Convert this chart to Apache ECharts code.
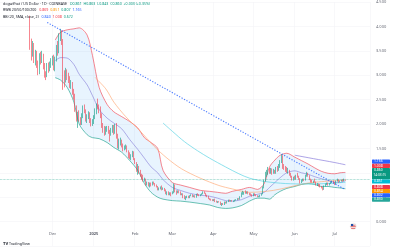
<!DOCTYPE html>
<html><head><meta charset="utf-8">
<script src="https://cdn.jsdelivr.net/npm/echarts@6/dist/echarts.min.js"></script>
<style>html,body{margin:0;padding:0;background:#fff}#c{width:400px;height:250px}</style>
</head><body><div id="c"></div>
<script>
// ---- axis / data ----
const axisStart = '2024-10-23';
const axisDays = 278;
const candleStart = '2024-11-14';
const firstLabelDate = '2024-12-01';
const monthNames = ['Jan','Feb','Mar','Apr','May','Jun','Jul','Aug','Sep','Oct','Nov','Dec'];
const yTicks = [-0.5, 4.5, 0.5]; // min, max, step

// daily candles [open, close, low, high]
const candles = [
[4.15,3.60,3.52,4.22],[3.60,3.42,3.30,3.75],[3.42,3.62,3.38,3.70],[3.62,3.31,3.25,3.66],[3.31,3.45,3.20,3.52],
[3.45,3.22,3.15,3.50],[3.22,3.08,3.00,3.30],[3.08,3.38,3.02,3.45],[3.38,3.30,3.22,3.48],[3.30,3.41,3.25,3.50],
[3.41,3.18,3.12,3.44],[3.18,3.02,2.95,3.25],[3.02,2.98,2.90,3.08],[2.98,3.21,2.96,3.25],[3.21,3.12,3.05,3.26],
[3.12,3.22,3.08,3.28],[3.22,3.30,3.15,3.35],
[3.30,3.35,3.20,3.40],[3.35,3.18,3.10,3.42],[3.18,3.32,3.08,3.38],[3.32,3.55,3.28,3.62],[3.55,3.48,3.40,3.70],
[3.48,3.80,3.45,3.86],[3.80,3.86,3.70,3.95],[3.86,3.70,3.62,3.92],[3.70,2.98,2.70,3.74],[2.98,2.92,2.75,3.10],
[2.92,3.08,2.85,3.15],[3.08,2.96,2.90,3.12],[2.96,2.92,2.84,3.05],[2.92,2.80,2.74,2.98],[2.80,2.84,2.72,2.90],
[2.84,2.66,2.60,2.86],[2.66,2.58,2.50,2.72],[2.58,2.30,2.25,2.62],[2.30,2.12,2.05,2.38],[2.12,2.18,1.92,2.25],
[2.18,2.10,2.05,2.28],[2.10,2.03,1.98,2.14],[2.03,2.16,1.98,2.22],[2.16,2.33,2.12,2.38],[2.33,2.28,2.22,2.40],
[2.28,2.10,2.05,2.30],[2.10,2.15,2.02,2.20],[2.15,2.22,2.10,2.26],[2.22,2.06,2.02,2.24],[2.06,2.00,1.95,2.12],
[2.00,2.04,1.96,2.10],
[2.04,2.14,2.00,2.18],[2.14,2.26,2.10,2.32],[2.26,2.36,2.20,2.42],[2.36,2.34,2.30,2.52],[2.34,2.28,2.22,2.40],
[2.28,2.18,2.12,2.36],[2.18,1.96,1.92,2.22],[1.96,1.90,1.82,2.02],[1.90,1.82,1.76,1.96],[1.82,1.88,1.78,1.95],
[1.88,1.92,1.84,1.96],[1.92,1.84,1.80,1.96],[1.84,1.78,1.64,1.88],[1.78,1.88,1.76,1.92],[1.88,1.94,1.82,1.98],
[1.94,1.82,1.78,1.98],[1.82,1.95,1.80,2.00],[1.95,1.74,1.70,2.02],[1.74,1.58,1.50,1.80],[1.58,1.62,1.48,1.70],
[1.62,1.66,1.56,1.72],[1.66,1.55,1.52,1.68],[1.55,1.50,1.44,1.60],[1.50,1.52,1.46,1.56],[1.52,1.54,1.48,1.58],
[1.54,1.44,1.42,1.56],[1.44,1.38,1.30,1.46],[1.38,1.31,1.28,1.42],[1.31,1.34,1.26,1.38],[1.34,1.40,1.32,1.45],
[1.40,1.28,1.26,1.44],
[1.28,1.20,1.18,1.30],[1.20,1.08,1.02,1.22],[1.08,1.12,0.96,1.18],[1.12,1.02,0.98,1.14],[1.02,0.95,0.92,1.06],
[0.95,0.88,0.86,0.98],[0.88,0.85,0.82,0.96],[0.85,0.87,0.82,0.90],[0.87,0.78,0.74,0.88],[0.78,0.79,0.74,0.82],
[0.79,0.74,0.72,0.81],[0.74,0.78,0.70,0.80],[0.78,0.75,0.72,0.80],[0.75,0.80,0.74,0.82],[0.80,0.77,0.76,0.82],
[0.77,0.73,0.72,0.79],[0.73,0.72,0.70,0.76],[0.72,0.66,0.64,0.73],[0.66,0.68,0.64,0.70],[0.68,0.70,0.66,0.72],
[0.70,0.66,0.64,0.74],[0.66,0.68,0.65,0.70],[0.68,0.64,0.62,0.69],[0.64,0.58,0.56,0.66],[0.58,0.60,0.54,0.62],
[0.60,0.56,0.54,0.62],[0.56,0.58,0.54,0.60],[0.58,0.57,0.52,0.60],
[0.57,0.60,0.56,0.62],[0.60,0.74,0.58,0.78],[0.74,0.62,0.60,0.76],[0.62,0.60,0.55,0.64],[0.60,0.62,0.58,0.64],
[0.62,0.59,0.58,0.64],[0.59,0.56,0.54,0.62],[0.56,0.57,0.54,0.58],[0.57,0.50,0.48,0.58],[0.50,0.48,0.46,0.54],
[0.48,0.50,0.44,0.52],[0.50,0.52,0.48,0.53],[0.52,0.49,0.48,0.53],[0.49,0.53,0.48,0.54],[0.53,0.55,0.52,0.56],
[0.55,0.51,0.50,0.56],[0.51,0.53,0.50,0.54],[0.53,0.50,0.49,0.54],[0.50,0.56,0.49,0.57],[0.56,0.54,0.53,0.58],
[0.54,0.53,0.52,0.56],[0.53,0.55,0.52,0.56],[0.55,0.57,0.54,0.58],[0.57,0.60,0.56,0.62],[0.60,0.58,0.57,0.62],
[0.58,0.53,0.52,0.59],[0.53,0.52,0.50,0.55],[0.52,0.47,0.46,0.53],[0.47,0.45,0.44,0.48],[0.45,0.44,0.43,0.47],
[0.44,0.43,0.42,0.46],
[0.43,0.45,0.42,0.46],[0.45,0.41,0.40,0.47],[0.41,0.40,0.39,0.43],[0.40,0.41,0.38,0.42],[0.41,0.40,0.39,0.42],
[0.40,0.35,0.34,0.41],[0.35,0.36,0.32,0.38],[0.36,0.35,0.34,0.38],[0.35,0.40,0.34,0.41],[0.40,0.38,0.37,0.41],
[0.38,0.41,0.37,0.42],[0.41,0.44,0.40,0.45],[0.44,0.42,0.41,0.45],[0.42,0.43,0.41,0.44],[0.43,0.42,0.41,0.44],
[0.42,0.42,0.40,0.43],[0.42,0.44,0.41,0.45],[0.44,0.45,0.43,0.46],[0.45,0.47,0.44,0.48],[0.47,0.46,0.45,0.48],
[0.46,0.51,0.45,0.52],[0.51,0.58,0.50,0.60],[0.58,0.58,0.55,0.63],[0.58,0.60,0.55,0.61],[0.60,0.58,0.57,0.64],
[0.58,0.60,0.57,0.62],[0.60,0.57,0.56,0.62],[0.57,0.56,0.54,0.59],[0.56,0.54,0.53,0.58],[0.54,0.53,0.51,0.56],
[0.53,0.57,0.52,0.58],[0.57,0.55,0.53,0.58],[0.55,0.53,0.52,0.56],[0.53,0.51,0.50,0.54],[0.51,0.52,0.50,0.53],
[0.52,0.54,0.50,0.55],[0.54,0.57,0.53,0.58],[0.57,0.70,0.56,0.72],[0.70,0.84,0.68,0.86],[0.84,0.98,0.82,1.02],
[0.98,1.00,0.92,1.06],[1.00,1.06,0.96,1.12],[1.06,1.02,0.98,1.10],[1.02,1.08,0.98,1.10],[1.08,0.99,0.96,1.09],
[0.99,1.05,0.98,1.08],[1.05,1.00,0.98,1.06],[1.00,1.10,0.98,1.12],[1.10,1.06,1.02,1.14],[1.06,1.14,1.04,1.18],
[1.14,1.22,1.10,1.26],[1.22,1.30,1.20,1.38],[1.30,1.12,1.08,1.36],[1.12,1.10,1.06,1.18],[1.10,1.08,1.02,1.14],
[1.08,1.02,1.00,1.12],[1.02,1.04,0.98,1.10],[1.04,0.96,0.94,1.06],[0.96,0.92,0.90,1.00],[0.92,0.86,0.84,0.94],
[0.86,0.90,0.84,0.92],
[0.90,0.88,0.86,0.94],[0.88,0.94,0.86,0.96],[0.94,0.92,0.90,1.00],[0.92,0.87,0.86,0.94],[0.87,0.80,0.78,0.89],
[0.80,0.84,0.79,0.86],[0.84,0.86,0.82,0.88],[0.86,0.85,0.83,0.88],[0.85,0.94,0.84,0.96],[0.94,0.98,0.92,1.02],
[0.98,0.94,0.92,1.00],[0.94,0.87,0.85,0.95],[0.87,0.84,0.80,0.88],[0.84,0.82,0.80,0.86],[0.82,0.83,0.79,0.84],
[0.83,0.81,0.80,0.88],[0.81,0.76,0.74,0.82],[0.76,0.77,0.73,0.79],[0.77,0.74,0.72,0.78],[0.74,0.72,0.70,0.77],
[0.72,0.70,0.68,0.73],[0.70,0.67,0.64,0.71],[0.67,0.73,0.65,0.74],[0.73,0.76,0.72,0.78],[0.76,0.78,0.75,0.80],
[0.78,0.75,0.74,0.80],[0.75,0.78,0.74,0.79],[0.78,0.80,0.77,0.82],[0.80,0.83,0.79,0.84],[0.83,0.80,0.78,0.84],
[0.80,0.77,0.75,0.81],[0.77,0.83,0.76,0.84],[0.83,0.86,0.82,0.88],[0.86,0.82,0.80,0.87],[0.82,0.83,0.81,0.84],
[0.83,0.85,0.82,0.86],[0.85,0.84,0.82,0.87],[0.84,0.86,0.83,0.88],[0.861,0.860,0.843,0.863]
];

// Bollinger Bands (20, SMA, close, 2)
const bbDates = ['2024-12-03','2024-12-07','2024-12-12','2024-12-17','2024-12-21','2024-12-27','2024-12-31',
 '2025-01-05','2025-01-11','2025-01-16','2025-01-22','2025-01-28','2025-02-03','2025-02-08','2025-02-13',
 '2025-02-18','2025-02-22','2025-03-01','2025-03-07','2025-03-14','2025-03-22','2025-03-29','2025-04-04',
 '2025-04-10','2025-04-15','2025-04-22','2025-04-28','2025-05-04','2025-05-09','2025-05-13','2025-05-17',
 '2025-05-21','2025-05-26','2025-06-01','2025-06-06','2025-06-11','2025-06-16','2025-06-21','2025-06-26',
 '2025-07-01','2025-07-05','2025-07-09'];
const bbUpper = [3.72,3.88,3.93,3.95,3.97,3.82,3.40,2.75,2.40,2.25,2.15,2.05,1.92,1.72,1.62,1.50,1.05,0.80,0.75,
 0.70,0.64,0.62,0.60,0.58,0.62,0.66,0.70,0.66,0.78,1.12,1.26,1.36,1.40,1.32,1.25,1.18,1.10,1.03,0.99,0.98,1.00,1.008];
const bbLower = [2.95,2.90,2.75,2.45,2.00,1.78,1.72,1.70,1.62,1.52,1.42,1.25,1.05,0.78,0.60,0.50,0.46,0.43,0.42,
 0.40,0.37,0.34,0.29,0.27,0.28,0.33,0.42,0.48,0.48,0.46,0.55,0.62,0.68,0.72,0.76,0.78,0.76,0.72,0.72,0.70,0.69,0.672];
const bbBasis = [3.30,3.36,3.35,3.22,3.02,2.80,2.58,2.30,2.12,2.02,1.90,1.68,1.48,1.30,1.12,1.00,0.86,0.70,0.64,
 0.58,0.54,0.52,0.48,0.43,0.42,0.45,0.52,0.56,0.60,0.70,0.80,0.90,1.00,1.04,1.00,0.97,0.92,0.88,0.84,0.81,0.80,0.840];

// moving averages
const ma50 = [['2025-01-02',2.95],['2025-01-10',2.72],['2025-01-16',2.45],['2025-01-25',2.15],['2025-02-05',1.85],
 ['2025-02-15',1.55],['2025-02-25',1.30],['2025-03-08',1.08],['2025-03-22',0.89],['2025-04-05',0.74],['2025-04-15',0.67],
 ['2025-04-28',0.60],['2025-05-16',0.64],['2025-06-11',0.79],['2025-07-09',0.851]];
const ma100 = [['2025-02-22',2.02],['2025-03-01',1.85],['2025-03-10',1.64],['2025-03-20',1.45],['2025-03-29',1.30],
 ['2025-04-10',1.12],['2025-04-20',0.98],['2025-04-28',0.89],['2025-05-10',0.82],['2025-05-25',0.78],['2025-06-10',0.77],
 ['2025-06-25',0.78],['2025-07-09',0.807]];
const ma200 = [['2025-06-01',1.36],['2025-06-15',1.29],['2025-07-01',1.21],['2025-07-09',1.165]];
const trendLine = [['2024-11-27',4.08],['2025-07-08',0.67]];
const lastClose = 0.860;

// right-axis price tags
const tags = [['1.166','#2962FF'],['1.008','#F23645'],['0.860','#089981'],['0.851','#00BCD4'],
 ['0.808','#F23645'],['0.854','#FF9800'],['0.802','#2962FF'],['0.830','#26A69A']];

// ---- build ----
function addDays(s, n){ const d = new Date(s + 'T00:00:00Z'); d.setUTCDate(d.getUTCDate() + n); return d.toISOString().slice(0,10); }
const cats = []; for (let i = 0; i < axisDays; i++) cats.push(addDays(axisStart, i));
const idx = {}; cats.forEach((c,i) => idx[c] = i);
const off = idx[candleStart];
const candleData = cats.map((c,i) => { const k = i - off; return (k >= 0 && k < candles.length) ? candles[k] : '-'; });
function fromDates(dates, vals){ const a = cats.map(() => null); dates.forEach((d,j) => a[idx[d]] = vals[j]); return a; }
function fromPairs(p){ return fromDates(p.map(x => x[0]), p.map(x => x[1])); }
const upperArr = fromDates(bbDates, bbUpper);
const lowerArr = fromDates(bbDates, bbLower);
const basisArr = fromDates(bbDates, bbBasis);
const isMonthStart = (i, v) => v.slice(8) === '01' && v >= firstLabelDate;

function lineS(data, color, width, opacity, z, extra){
  return Object.assign({ type:'line', data, symbol:'none', connectNulls:true, smooth:0.3, z,
    lineStyle:{ color, width, opacity }, silent:true }, extra || {});
}

const chart = echarts.init(document.getElementById('c'), null, { renderer:'canvas' });
const FONT = '"Noto Sans", "DejaVu Sans", sans-serif';

// tags graphic
const tagG = [];
let ty = 159.5;
tags.forEach((t, j) => {
  const main = j === 2;
  const h = main ? 11.5 : 4.2;
  if (j === 4) ty += 1.3;
  tagG.push({ type:'rect', left:372, top:ty, shape:{ width:18, height:h, r:0.6 }, style:{ fill:t[1] }, z:100 });
  tagG.push({ type:'text', left:374, top:ty + 0.4, style:{ text:t[0], fill:'#fff', font:'3.4px ' + FONT }, z:101 });
  if (main) tagG.push({ type:'text', left:373.5, top:ty + 5.5, style:{ text:'14:03:15', fill:'#fff', font:'3.2px ' + FONT }, z:101 });
  ty += h;
});

const option = {
  animation:false,
  backgroundColor:'#ffffff',
  grid:{ left:0, right:30, top:0, bottom:4, containLabel:false },
  xAxis:{
    type:'category', data:cats, boundaryGap:true,
    axisLine:{ show:false }, axisTick:{ show:false },
    axisLabel:{ interval:isMonthStart, margin:-14, fontSize:4, color:'#5d606b', fontFamily:FONT,
      formatter:(v) => { const m = +v.slice(5,7); return m === 1 ? '{y|' + v.slice(0,4) + '}' : monthNames[m-1]; },
      rich:{ y:{ fontSize:4, fontWeight:'bold', color:'#5d606b', fontFamily:FONT } } },
    splitLine:{ show:true, interval:isMonthStart, lineStyle:{ color:'#f3f4f7', width:0.6 } }
  },
  yAxis:{
    type:'value', position:'right', min:yTicks[0], max:yTicks[1], interval:yTicks[2],
    axisLine:{ show:false }, axisTick:{ show:false },
    axisLabel:{ margin:6, fontSize:4, color:'#6a6d78', fontFamily:FONT,
      formatter:(v) => v < 0 ? '' : v.toFixed(3) },
    splitLine:{ show:true, lineStyle:{ color:'#f3f4f7', width:0.6 } }
  },
  series:[
    {
      type:'custom', z:1, silent:true, data:[[0, 0]],
      renderItem:(params, api) => {
        const up = bbDates.map((d,j) => api.coord([idx[d], bbUpper[j]]));
        const lo = bbDates.map((d,j) => api.coord([idx[d], bbLower[j]])).reverse();
        return { type:'polygon', shape:{ points: up.concat(lo), smooth:0.2 }, style:{ fill:'rgba(33,150,243,0.10)' } };
      }
    },
    lineS(upperArr, '#F23645', 0.8, 0.75, 3),
    lineS(lowerArr, '#089981', 0.8, 0.75, 3),
    lineS(basisArr, '#6a5acd', 0.8, 0.6, 3),
    lineS(fromPairs(ma50), '#FFA570', 0.8, 0.8, 3),
    lineS(fromPairs(ma100), '#4DD0E1', 0.8, 0.8, 3),
    lineS(fromPairs(ma200), '#7E6FD8', 0.8, 0.8, 3),
    {
      type:'candlestick', data:candleData, barWidth:1, z:5, silent:true,
      itemStyle:{ color:'#089981', color0:'#F23645', borderColor:'#089981', borderColor0:'#F23645', borderWidth:0.6 },
      markLine:{ silent:true, symbol:['none','none'], label:{ show:false },
        lineStyle:{ color:'#089981', type:'dotted', width:0.7, opacity:0.6 },
        data:[{ yAxis:lastClose }] }
    },
    lineS(fromPairs(trendLine), '#2962FF', 1.1, 0.85, 6, { smooth:false, lineStyle:{ color:'#2962FF', width:1.1, type:[1.2,1.6], opacity:0.85 } })
  ],
  graphic:[
    { type:'text', left:3, top:1.5, z:50, style:{ font:'3.6px ' + FONT, fill:'#131722',
      text:'dogwifhat / US Dollar · 1D · COINBASE   {g|O0.861  H0.863  L0.843  C0.860  +0.003 (+0.35%)}',
      rich:{ g:{ fill:'#089981', font:'3.6px ' + FONT } } } },
    { type:'text', left:3, top:8.2, z:50, style:{ font:'3.6px ' + FONT, fill:'#131722',
      text:'RWB 20/50/100/200   {r|0.869}  {o|0.851}  {t|0.807}  {b|1.165}',
      rich:{ r:{ fill:'#F23645', font:'3.6px ' + FONT }, o:{ fill:'#FF9800', font:'3.6px ' + FONT },
             t:{ fill:'#089981', font:'3.6px ' + FONT }, b:{ fill:'#2962FF', font:'3.6px ' + FONT } } } },
    { type:'text', left:3, top:14.8, z:50, style:{ font:'3.6px ' + FONT, fill:'#131722',
      text:'BB (20, SMA, close, 2)   {b|0.840}  {r|1.008}  {t|0.672}',
      rich:{ r:{ fill:'#F23645', font:'3.6px ' + FONT }, b:{ fill:'#2962FF', font:'3.6px ' + FONT },
             t:{ fill:'#089981', font:'3.6px ' + FONT } } } },
    { type:'text', left:3, top:241.5, z:50, style:{ text:'{b|TV} TradingView', font:'3.6px ' + FONT, fill:'#131722',
      rich:{ b:{ font:'bold 4.2px ' + FONT, fill:'#131722' } } } },
    { type:'group', left:350, top:223, z:50, children:[
      { type:'circle', shape:{ cx:3, cy:3, r:3 }, style:{ fill:'#ffffff', stroke:'#d0d0d0', lineWidth:0.4 } },
      { type:'rect', shape:{ x:0.8, y:1.6, width:4.4, height:0.7 }, style:{ fill:'#d32f2f' } },
      { type:'rect', shape:{ x:0.4, y:3.2, width:5.2, height:0.7 }, style:{ fill:'#d32f2f' } },
      { type:'rect', shape:{ x:1.0, y:4.7, width:4.0, height:0.7 }, style:{ fill:'#d32f2f' } },
      { type:'rect', shape:{ x:0.8, y:0.8, width:2.2, height:2.0 }, style:{ fill:'#1e4fa8' } }
    ] }
  ].concat(tagG)
};
chart.setOption(option);
</script>
</body></html>
